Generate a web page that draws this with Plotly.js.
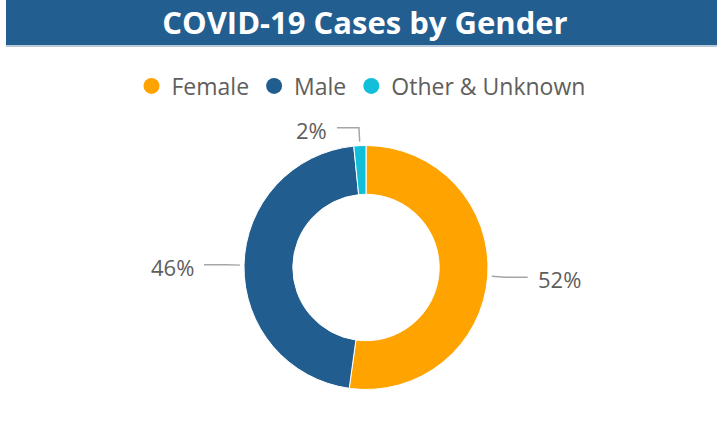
<!DOCTYPE html>
<html>
<head>
<meta charset="utf-8">
<script src="https://cdn.plot.ly/plotly-3.0.1.min.js"></script>
<style>html,body{margin:0;padding:0;background:#fff;}#chart{width:717px;height:434px;}</style>
</head>
<body>
<div id="chart"></div>
<script>
const categories = ["Female", "Male", "Other & Unknown"];
const values = [52.2, 46.2, 1.6];
const colors = ["#FFA300", "#215D8F", "#12BFDB"];
const chartTitle = "COVID-19 Cases by Gender";

const W = 717, H = 434;
const cx = 366, cy = 267.5, R = 122;
const fx = px => px / W;
const fy = py => 1 - py / H;

const total = values.reduce((a, b) => a + b, 0);

const traces = [{
  type: "pie",
  labels: categories,
  values: values,
  sort: false,
  direction: "clockwise",
  rotation: 0,
  hole: 0.6,
  textinfo: "none",
  showlegend: false,
  marker: {colors: colors, line: {color: "#ffffff", width: 1}},
  domain: {x: [fx(cx - R), fx(cx + R)], y: [fy(cy + R), fy(cy - R)]}
}];

categories.forEach((c, i) => {
  traces.push({
    type: "scatter", mode: "markers", x: [null], y: [null], name: c,
    marker: {symbol: "circle", size: 19, color: colors[i]},
    showlegend: true, hoverinfo: "skip"
  });
});

const shapes = [{
  type: "rect", xref: "paper", yref: "paper",
  x0: fx(6), x1: 1, y0: fy(45), y1: 1,
  fillcolor: "#225E90", line: {width: 0}, layer: "below"
}, {
  type: "rect", xref: "paper", yref: "paper",
  x0: fx(6), x1: 1, y0: fy(47), y1: fy(45),
  fillcolor: "#b9c9d8", line: {width: 0}, layer: "below"
}];
const annotations = [];

let cum = 0;
values.forEach((v, i) => {
  const mid = (cum + v / 2) / total * 2 * Math.PI;
  cum += v;
  const s = Math.sin(mid), co = Math.cos(mid);
  const x1 = cx + (R + 4) * s, y1 = cy - (R + 4) * co;
  const x2 = cx + (R + 18) * s, y2 = cy - (R + 18) * co;
  const side = s > 0.05 ? 1 : -1;
  const x3 = x2 + side * 22;
  shapes.push({
    type: "path", xref: "paper", yref: "paper",
    path: `M ${fx(x1)} ${fy(y1)} L ${fx(x2)} ${fy(y2)} L ${fx(x3)} ${fy(y2)}`,
    line: {color: "#a6a6a6", width: 1.5}
  });
  annotations.push({
    xref: "paper", yref: "paper",
    x: fx(x3 + side * 8), y: fy(y2 + 2),
    xanchor: side > 0 ? "left" : "right", yanchor: "middle",
    text: Math.round(v / total * 100) + "%",
    showarrow: false,
    font: {family: "Open Sans, sans-serif", size: 22, color: "#605E5C"}
  });
});

const layout = {
  width: W, height: H,
  margin: {l: 0, r: 0, t: 0, b: 0},
  paper_bgcolor: "#ffffff", plot_bgcolor: "#ffffff",
  title: {
    text: chartTitle,
    x: fx(365), xanchor: "center", xref: "paper",
    y: fy(23), yanchor: "middle", yref: "container",
    font: {family: "Open Sans, sans-serif", size: 31, color: "#ffffff", weight: 700}
  },
  xaxis: {visible: false}, yaxis: {visible: false},
  showlegend: true,
  legend: {
    orientation: "h", x: fx(361), xanchor: "center", y: fy(86), yanchor: "middle",
    font: {family: "Open Sans, sans-serif", size: 23, color: "#605E5C"},
    itemwidth: 30, bgcolor: "rgba(0,0,0,0)"
  },
  shapes: shapes,
  annotations: annotations
};

Plotly.newPlot("chart", traces, layout, {displayModeBar: false, staticPlot: true});
</script>
</body>
</html>
